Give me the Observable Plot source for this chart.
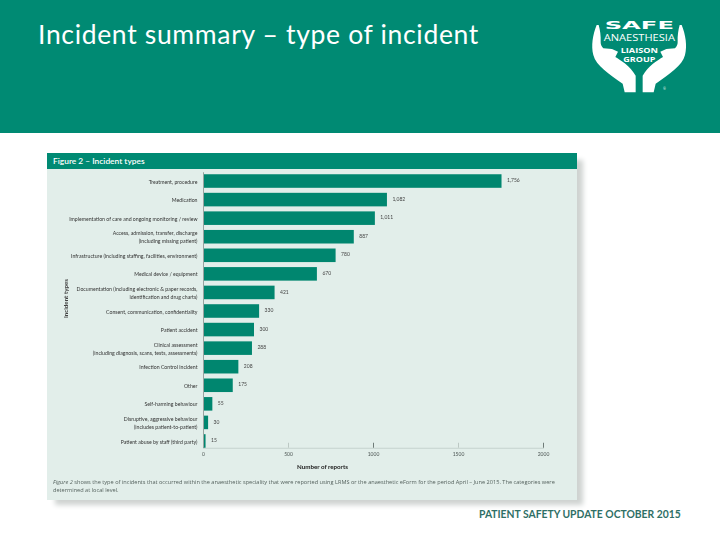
<!DOCTYPE html>
<html><head><meta charset="utf-8">
<script src="https://cdn.jsdelivr.net/npm/d3@7"></script>
<script src="https://cdn.jsdelivr.net/npm/@observablehq/plot@0.6"></script>
<style>
html,body{margin:0;padding:0;background:#fff;width:720px;height:540px;overflow:hidden;font-family:"Open Sans",sans-serif}
#header{position:absolute;left:0;top:0;width:720px;height:133px;background:#008a73}
#title{position:absolute;left:38px;top:16px;color:#fff;font:400 26.5px/36px Lato,"Open Sans",sans-serif;letter-spacing:.67px;white-space:nowrap}
#logo{position:absolute;left:580px;top:5px;width:130px;height:100px}
#panel{position:absolute;left:47px;top:153px;width:530px;height:347px;background:#e2eeea;box-shadow:7px 6px 5px -1px #cfd3d1}
#band{position:absolute;left:47px;top:153px;width:530px;height:16px;background:#008a73;color:#fff;font:600 8.4px/16px Lato,sans-serif;text-indent:6px}
#chart{position:absolute;left:0;top:0;filter:blur(.25px)}
#chart svg{display:block;background:transparent}
#caption{position:absolute;left:53px;top:477.5px;width:515px;color:#55625e;font:400 5.62px/8.6px "Open Sans",sans-serif;white-space:nowrap;filter:blur(.2px)}
#footer{position:absolute;left:479px;top:507px;color:#2f6f66;font:700 10.35px/15px Lato,sans-serif;white-space:nowrap}
</style></head><body>
<div id="header"></div>
<div id="title">Incident summary – type of incident</div>
<svg id="logo" viewBox="0 0 390 300" xmlns="http://www.w3.org/2000/svg">
  <g fill="#fff">
    <path id="hand" d="M50,60 C38,90 33,122 40,150 C48,182 88,208 128,236 L134,262 L167,262 L167,212 C150,182 122,166 106,156 L114,140 L96,132 L70,130 C64,124 62,118 62,112 C63,92 60,74 56,60 Z"/>
    <use href="#hand" transform="translate(355,0) scale(-1,1)"/>
    <text x="178" y="73" text-anchor="middle" font-family="'DejaVu Sans',sans-serif" font-weight="700" font-size="34" textLength="208" lengthAdjust="spacingAndGlyphs">SAFE</text>
    <text x="178" y="109" text-anchor="middle" font-family="'Open Sans',sans-serif" font-size="26" textLength="214" lengthAdjust="spacingAndGlyphs">ANAESTHESIA</text>
    <text x="178" y="145" text-anchor="middle" font-family="'Open Sans',sans-serif" font-weight="700" font-size="20" textLength="112" lengthAdjust="spacingAndGlyphs">LIAISON</text>
    <text x="178" y="172" text-anchor="middle" font-family="'Open Sans',sans-serif" font-weight="700" font-size="20" textLength="96" lengthAdjust="spacingAndGlyphs">GROUP</text>
    <text x="250" y="254" font-family="'Open Sans',sans-serif" font-size="9">®</text>
  </g>
</svg>
<div id="panel"></div>
<div id="band">Figure 2 – Incident types</div>
<div id="chart"></div>
<div id="caption"><i>Figure 2</i> shows the type of incidents that occurred within the anaesthetic speciality that were reported using LRMS or the anaesthetic eForm for the period April – June 2015. The categories were<br>determined at local level.</div>
<div id="footer">PATIENT SAFETY UPDATE OCTOBER 2015</div>
<script>
const categories = [
  "Treatment, procedure",
  "Medication",
  "Implementation of care and ongoing monitoring / review",
  "Access, admission, transfer, discharge\n(including missing patient)",
  "Infrastructure (including staffing, facilities, environment)",
  "Medical device / equipment",
  "Documentation (including electronic & paper records,\nidentification and drug charts)",
  "Consent, communication, confidentiality",
  "Patient accident",
  "Clinical assessment\n(including diagnosis, scans, tests, assessments)",
  "Infection Control incident",
  "Other",
  "Self-harming behaviour",
  "Disruptive, aggressive behaviour\n(includes patient-to-patient)",
  "Patient abuse by staff (third party)"
];
const reports = [1756, 1082, 1011, 887, 780, 670, 421, 330, 300, 288, 208, 175, 55, 30, 15];
const labelTicks = [0, 500, 1000, 1500, 2000];
const majorTicks = [1000, 2000];
const minorTicks = [500, 1500];
const rows = categories.map((category, i) => ({category, value: reports[i]}));

const chart = Plot.plot({
  width: 720, height: 540,
  marginLeft: 203, marginRight: 177, marginTop: 174.25, marginBottom: 92.25,
  style: {background: "transparent", fontFamily: "Lato,'Open Sans',sans-serif"},
  x: {domain: [0, 2000], label: null},
  y: {domain: categories, paddingInner: 0.27, paddingOuter: 0, round: false, label: null},
  marks: [
    Plot.frame({anchor: "bottom", stroke: "#c5d2ce", strokeWidth: 1}),
    Plot.barX(rows, {x: "value", y: "category", fill: "#00866f"}),
    Plot.ruleX([0], {stroke: "#98a3a0", strokeWidth: 1, insetTop: -2}),
    Plot.axisX({ticks: majorTicks, tickSize: -5, tickPadding: 0, text: null, stroke: "#6f7b78", strokeWidth: 1, label: null}),
    Plot.axisX({ticks: minorTicks, tickSize: -5, tickPadding: 0, text: null, stroke: "#bcc8c4", strokeWidth: 1, label: null}),
    Plot.axisX({
      ticks: labelTicks, tickSize: 0, tickPadding: 4, tickFormat: d => String(d),
      fontSize: 5, color: "#4c5553", label: null
    }),
    Plot.axisY({
      tickSize: 0, tickPadding: 6, fontSize: 5.2, lineHeight: 1.55, color: "#333", label: null,
      textOverflow: null, lineWidth: Infinity, dy: -0.5
    }),
    Plot.text(rows, {
      x: "value", y: "category", text: d => d3.format(",")(d.value),
      dx: 5, dy: -1, textAnchor: "start", fontSize: 5, fill: "#444"
    }),
    Plot.text(["Number of reports"], {
      frameAnchor: "bottom", dy: 20.5, dx: -51, fontSize: 6.2, fontWeight: 700, fill: "#222"
    }),
    Plot.text(["Incident types"], {
      frameAnchor: "left", textAnchor: "middle", dx: -137, dy: -13, rotate: -90, fontSize: 6.2, fontWeight: 700, fill: "#444"
    })
  ]
});
document.getElementById("chart").appendChild(chart);
</script>
</body></html>
